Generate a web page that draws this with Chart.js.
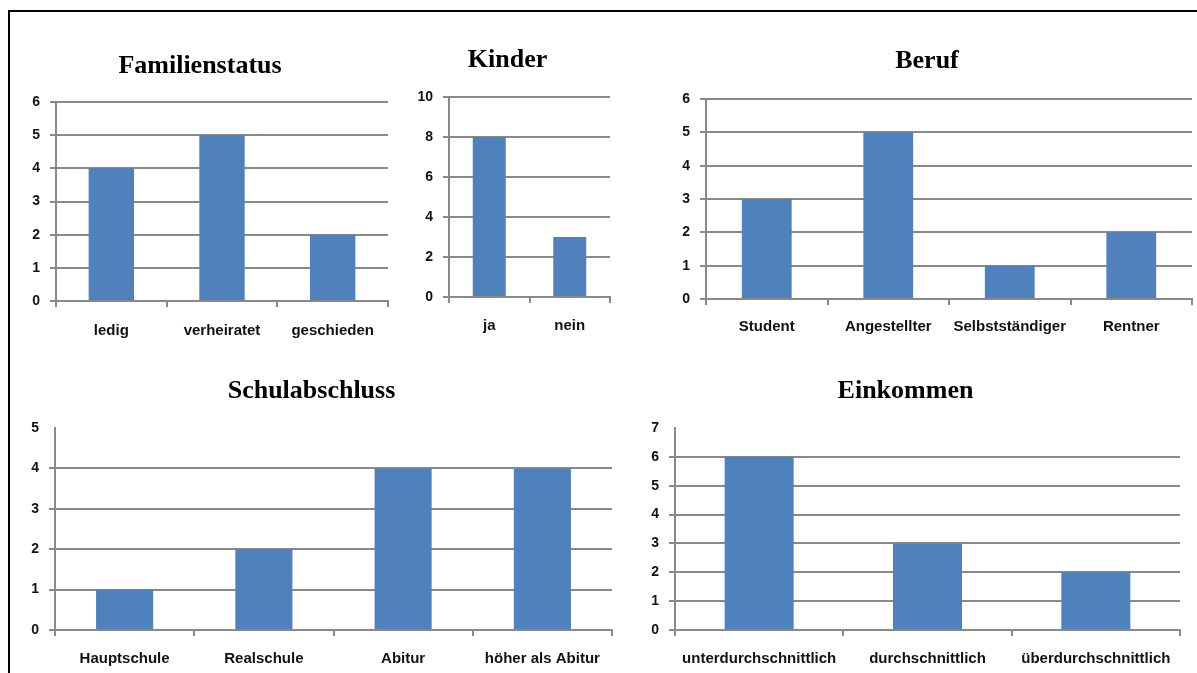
<!DOCTYPE html>
<html>
<head>
<meta charset="utf-8">
<script src="https://cdn.jsdelivr.net/npm/chart.js@4.4.0/dist/chart.umd.min.js"></script>
<style>
  html, body { margin: 0; padding: 0; width: 1197px; height: 673px; overflow: hidden; background: #fff; }
  #rahmen { position: absolute; left: 8px; top: 10px; width: 1400px; height: 900px; border: 2px solid #000; box-sizing: border-box; }
  .panel { position: absolute; }
  .panel canvas { display: block; }
</style>
</head>
<body>
<div id="rahmen"></div>
<div class="panel" id="p1"><canvas id="c1"></canvas></div>
<div class="panel" id="p2"><canvas id="c2"></canvas></div>
<div class="panel" id="p3"><canvas id="c3"></canvas></div>
<div class="panel" id="p4"><canvas id="c4"></canvas></div>
<div class="panel" id="p5"><canvas id="c5"></canvas></div>
<script>
// Umfrageergebnisse (Anzahl Personen)
const familienKategorien = ['ledig', 'verheiratet', 'geschieden'];
const familienWerte = [4, 5, 2];

const kinderKategorien = ['ja', 'nein'];
const kinderWerte = [8, 3];

const berufKategorien = ['Student', 'Angestellter', 'Selbstständiger', 'Rentner'];
const berufWerte = [3, 5, 1, 2];

const schulKategorien = ['Hauptschule', 'Realschule', 'Abitur', 'höher als Abitur'];
const schulWerte = [1, 2, 4, 4];

const einkommenKategorien = ['unterdurchschnittlich', 'durchschnittlich', 'überdurchschnittlich'];
const einkommenWerte = [6, 3, 2];

// y-Achsen: Maximum und Schrittweite
const familienAchse = { max: 6, step: 1 };
const kinderAchse = { max: 10, step: 2 };
const berufAchse = { max: 6, step: 1 };
const schulAchse = { max: 5, step: 1 };
const einkommenAchse = { max: 7, step: 1 };

const BLAU = '#4f81bd';
const GRAU = '#898989';
const Y_BREITE = 44;
const X_HOEHE = 45;
const TICK = 6;
const TITEL_GROESSE = 26;
const LABEL_GROESSE = 15;

// Geometrie der Diagramme auf der Seite
function diagramm(id, titel, kategorien, werte, achse, geo) {
  const links = geo.achseX - Y_BREITE;
  const breite = Math.round(2 * (geo.titelX - links));
  const oben = geo.titelY - 30;
  const titelZeile = TITEL_GROESSE * 1.2;
  const padOben = geo.titelY - oben - titelZeile / 2;
  const padUnten = geo.plotOben - oben - padOben - titelZeile;
  const hoehe = geo.plotUnten + X_HOEHE - oben;
  const rechtsPad = links + breite - geo.plotRechts;
  const labelPad = geo.labelY - geo.plotUnten - TICK - LABEL_GROESSE * 1.2 / 2;

  const panel = document.getElementById('p' + id);
  panel.style.left = links + 'px';
  panel.style.top = oben + 'px';
  panel.style.width = breite + 'px';
  panel.style.height = hoehe + 'px';

  new Chart(document.getElementById('c' + id), {
    type: 'bar',
    data: {
      labels: kategorien,
      datasets: [{
        data: werte,
        backgroundColor: BLAU,
        borderWidth: 0,
        categoryPercentage: 1,
        barPercentage: 0.41
      }]
    },
    options: {
      responsive: true,
      maintainAspectRatio: false,
      animation: false,
      layout: { padding: { left: 0, top: 0, bottom: 0, right: rechtsPad } },
      plugins: {
        legend: { display: false },
        tooltip: { enabled: false },
        title: {
          display: true,
          text: titel,
          color: '#000',
          font: { family: 'Liberation Serif', size: TITEL_GROESSE, weight: 'bold', lineHeight: 1.2 },
          padding: { top: padOben, bottom: padUnten }
        }
      },
      scales: {
        x: {
          afterFit: s => { s.height = X_HOEHE; },
          grid: {
            display: true,
            drawOnChartArea: false,
            drawTicks: true,
            tickLength: TICK,
            offset: true,
            color: GRAU,
            lineWidth: 2
          },
          border: { display: true, color: GRAU, width: 2 },
          ticks: {
            color: '#111',
            padding: labelPad,
            maxRotation: 0,
            autoSkip: false,
            font: { family: 'Liberation Sans', size: LABEL_GROESSE, weight: 'bold' }
          }
        },
        y: {
          min: 0,
          max: achse.max,
          afterFit: s => { s.width = Y_BREITE; },
          grid: {
            drawTicks: true,
            tickLength: TICK,
            lineWidth: 2,
            color: ctx => (geo.ohneOberlinie && ctx.tick && ctx.tick.value === achse.max) ? 'rgba(0,0,0,0)' : GRAU
          },
          border: { display: true, color: GRAU, width: 2 },
          ticks: {
            stepSize: achse.step,
            color: '#111',
            padding: 10,
            font: { family: 'Liberation Sans', size: 14, weight: 'bold' }
          }
        }
      }
    }
  });
}

diagramm(1, 'Familienstatus', familienKategorien, familienWerte, familienAchse,
  { achseX: 56, plotRechts: 388, plotOben: 102, plotUnten: 301, titelX: 210, titelY: 66, labelY: 331 });
diagramm(2, 'Kinder', kinderKategorien, kinderWerte, kinderAchse,
  { achseX: 449, plotRechts: 610, plotOben: 97, plotUnten: 297, titelX: 513, titelY: 60, labelY: 326 });
diagramm(3, 'Beruf', berufKategorien, berufWerte, berufAchse,
  { achseX: 706, plotRechts: 1192, plotOben: 99, plotUnten: 299, titelX: 935, titelY: 61, labelY: 327 });
diagramm(4, 'Schulabschluss', schulKategorien, schulWerte, schulAchse,
  { achseX: 55, plotRechts: 612, plotOben: 428, plotUnten: 630, titelX: 318, titelY: 391, labelY: 659, ohneOberlinie: true });
diagramm(5, 'Einkommen', einkommenKategorien, einkommenWerte, einkommenAchse,
  { achseX: 675, plotRechts: 1180, plotOben: 428, plotUnten: 630, titelX: 912, titelY: 391, labelY: 659, ohneOberlinie: true });
</script>
</body>
</html>
